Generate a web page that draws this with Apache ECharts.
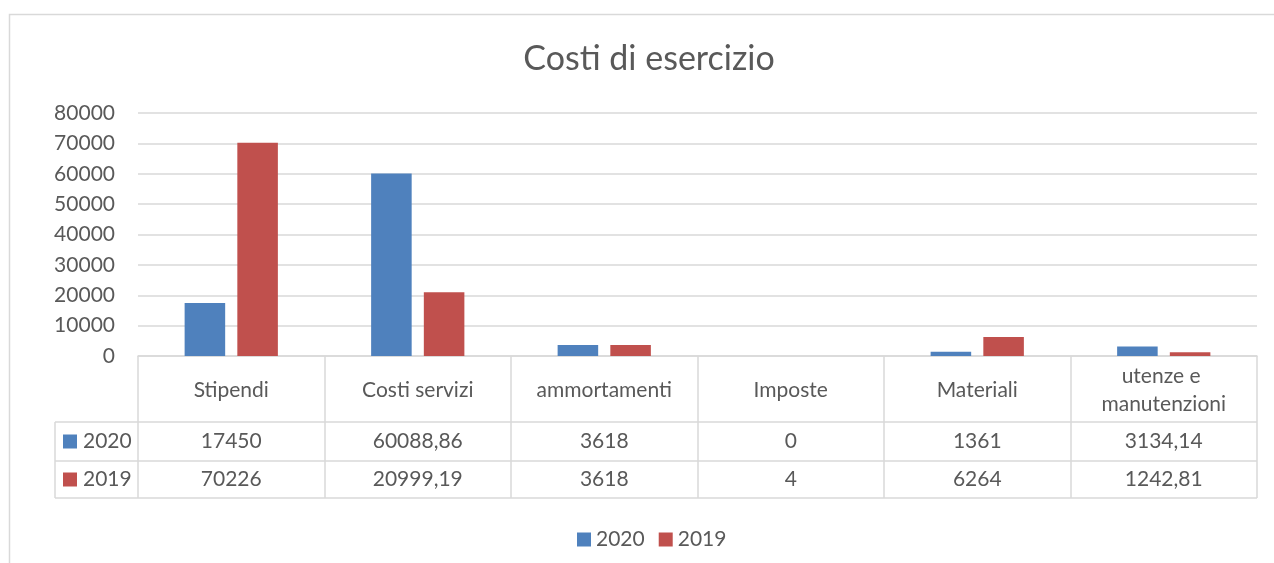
<!DOCTYPE html>
<html>
<head>
<meta charset="utf-8">
<script src="https://cdn.jsdelivr.net/npm/echarts@6/dist/echarts.min.js"></script>
<style>
html, body { margin: 0; padding: 0; background: #fff; }
#main { width: 1274px; height: 563px; }
</style>
</head>
<body>
<div id="main"></div>
<script>
const categories = ['Stipendi', 'Costi servizi', 'ammortamenti', 'Imposte', 'Materiali', 'utenze e manutenzioni']
const values2020 = [17450, 60088.86, 3618, 0, 1361, 3134.14]
const values2019 = [70226, 20999.19, 3618, 4, 6264, 1242.81]
const seriesNames = ['2020', '2019']
const yTicks = [0, 10000, 20000, 30000, 40000, 50000, 60000, 70000, 80000]

const colors = ['#4F81BD', '#C0504D']
const textColor = '#595959'
const lineColor = '#D9D9D9'
const font = 'Lato, "Open Sans", sans-serif'
const fontSize = 21
// row heights of the data table (header, 2020, 2019)
const rowH = [66, 39, 37]

const fmt = v => String(v).replace('.', ',')

const chart = echarts.init(document.getElementById('main'))

chart.setOption({
  animation: false,
  textStyle: { fontFamily: font },
  title: {
    text: 'Costi di esercizio',
    left: 644,
    textAlign: 'center',
    top: 37,
    textStyle: { color: textColor, fontSize: 34, fontWeight: 'normal', fontFamily: font }
  },
  legend: {
    data: seriesNames,
    left: 572,
    top: 524,
    icon: 'rect',
    itemWidth: 14,
    itemHeight: 14,
    itemGap: 14,
    textStyle: { color: textColor, fontSize: fontSize, fontFamily: font }
  },
  grid: { left: 138, right: 17, top: 113, bottom: 207 },
  xAxis: {
    type: 'category',
    data: categories,
    axisLine: { lineStyle: { color: lineColor, width: 1.5 } },
    axisTick: {
      show: true,
      interval: 0,
      length: rowH[0] + rowH[1] + rowH[2],
      lineStyle: { color: lineColor, width: 1.5 }
    },
    axisLabel: {
      interval: 0,
      color: textColor,
      fontSize: fontSize,
      fontFamily: font,
      margin: 34,
      verticalAlign: 'middle',
      lineHeight: 28,
      width: 170,
      overflow: 'break'
    }
  },
  yAxis: {
    type: 'value',
    min: yTicks[0],
    max: yTicks[yTicks.length - 1],
    interval: yTicks[1] - yTicks[0],
    axisLine: { show: false },
    axisTick: { show: false },
    axisLabel: { color: textColor, fontSize: fontSize, fontFamily: font, margin: 23, formatter: v => String(v) },
    splitLine: { lineStyle: { color: lineColor, width: 1.5 } }
  },
  series: [
    { name: seriesNames[0], type: 'bar', data: values2020, itemStyle: { color: colors[0] }, barGap: '30%', barCategoryGap: '50%' },
    { name: seriesNames[1], type: 'bar', data: values2019, itemStyle: { color: colors[1] }, barGap: '30%', barCategoryGap: '50%' }
  ]
})

// data table under the axis, placed from the axis scales
const drawTable = () => {
  const y0 = chart.convertToPixel({ yAxisIndex: 0 }, 0)
  const c0 = chart.convertToPixel({ xAxisIndex: 0 }, 0)
  const c1 = chart.convertToPixel({ xAxisIndex: 0 }, 1)
  const colW = c1 - c0
  const xLeft = c0 - colW / 2
  const xRight = xLeft + colW * categories.length
  const tableLeft = 55
  const rows = [values2020, values2019]
  const elements = []

  // outer chart frame
  elements.push({
    type: 'rect', silent: true,
    shape: { x: 9.5, y: 14.5, width: 1400, height: 700 },
    style: { fill: 'none', stroke: lineColor, lineWidth: 1.5 }
  })

  let y = y0 + rowH[0]
  const rowTops = [y]
  for (let r = 0; r < rows.length; r++) {
    y += rowH[r + 1]
    rowTops.push(y)
  }
  rowTops.forEach(yy => {
    elements.push({
      type: 'line', silent: true,
      shape: { x1: tableLeft, y1: yy, x2: xRight, y2: yy },
      style: { stroke: lineColor, lineWidth: 1.5 }
    })
  })
  elements.push({
    type: 'line', silent: true,
    shape: { x1: tableLeft, y1: rowTops[0], x2: tableLeft, y2: rowTops[rowTops.length - 1] },
    style: { stroke: lineColor, lineWidth: 1.5 }
  })

  rows.forEach((vals, r) => {
    const cy = (rowTops[r] + rowTops[r + 1]) / 2
    elements.push({
      type: 'rect', silent: true,
      shape: { x: tableLeft + 8, y: cy - 7, width: 14, height: 14 },
      style: { fill: colors[r] }
    })
    elements.push({
      type: 'text', silent: true,
      x: tableLeft + 28, y: cy,
      style: { text: seriesNames[r], fill: textColor, font: fontSize + 'px ' + font, verticalAlign: 'middle' }
    })
    vals.forEach((v, i) => {
      const cx = chart.convertToPixel({ xAxisIndex: 0 }, i)
      elements.push({
        type: 'text', silent: true,
        x: cx, y: cy,
        style: { text: fmt(v), fill: textColor, font: fontSize + 'px ' + font, align: 'center', verticalAlign: 'middle' }
      })
    })
  })

  chart.setOption({ graphic: { elements: elements } })
}

drawTable()
</script>
</body>
</html>
